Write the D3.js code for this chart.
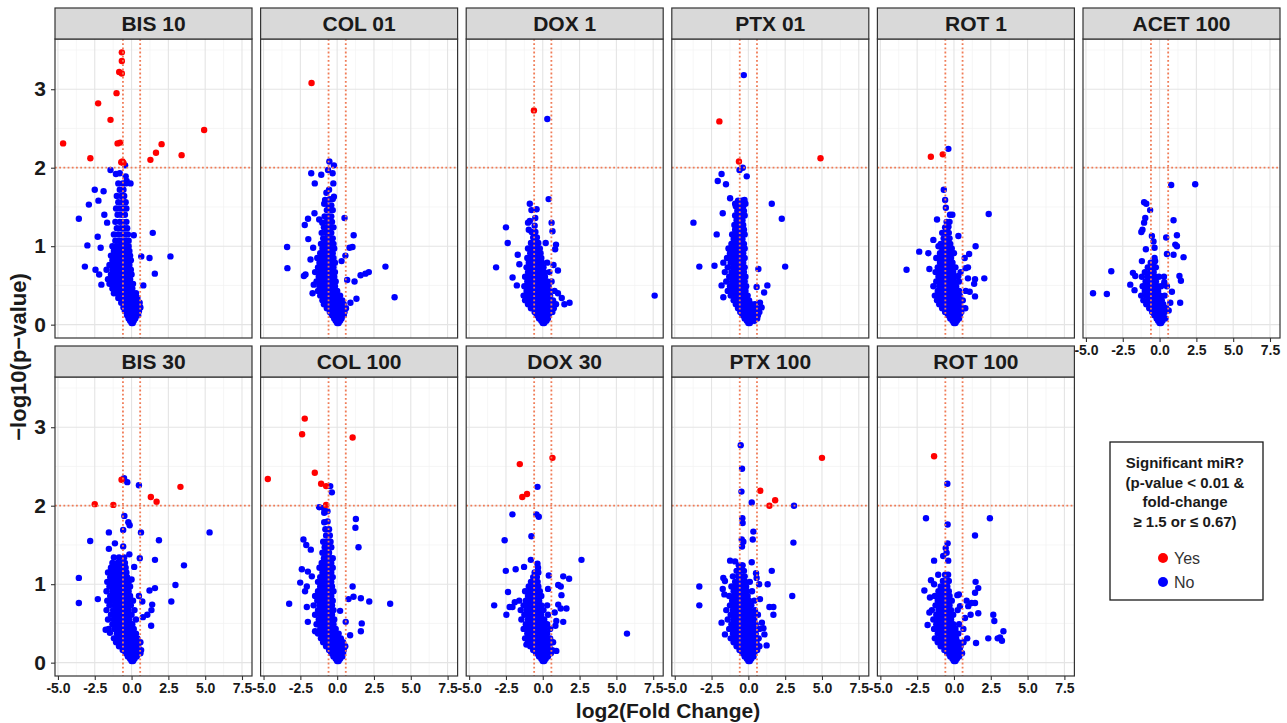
<!DOCTYPE html>
<html>
<head>
<meta charset="utf-8">
<script src="https://cdn.jsdelivr.net/npm/d3@7"></script>
<style>
  body { margin: 0; background: #fff; }
  text { font-family: "Liberation Sans", Arial, sans-serif; }
</style>
</head>
<body>
<svg id="chart" width="1287" height="723"></svg>
<script>
// facet names, in the order they are laid out
const panels = ["BIS 10", "COL 01", "DOX 1", "PTX 01", "ROT 1", "ACET 100",
                "BIS 30", "COL 100", "DOX 30", "PTX 100", "ROT 100"];
const xTicks = [-5, -2.5, 0, 2.5, 5, 7.5];
const yTicks = [0, 1, 2, 3];
const fcCut = Math.log2(1.5);   // fold-change 1.5
const pCut = 2;                 // p = 0.01

// every row is [-log10(p), log2FC, log2FC, ...]
const bis10Yes = [[3.47,-0.66],[3.36,-0.66],[3.22,-0.84],[3.20,-0.66],[2.95,-1.02],[2.82,-2.27],[2.61,-1.43],
  [2.31,-4.65,-0.95],[2.32,-0.77],[2.12,-2.8],[2.07,-0.70],[2.08,-0.62],[2.06,-0.55],[2.10,1.28],[2.19,1.66],
  [2.30,2.04],[2.16,3.4],[2.48,4.93]];
const bis10No = [[2.03,-0.44],[1.97,-1.43],[1.92,-1.06],[1.93,-0.8],[1.89,-0.4],[1.83,-0.33],[1.80,-0.07],[1.72,-2.5],
  [1.70,-1.9],[1.58,-2.25],[1.53,-2.9],[1.35,-3.58],[1.01,-3.0],[1.12,-2.3],[0.98,-2.1],[0.74,-3.17],[0.70,-2.45],
  [0.64,-2.2],[0.51,-2.05],[1.14,0.15],[1.17,1.44],[0.87,0.66,2.64],[0.85,1.22],[0.65,1.58],[0.50,0.8],[1.40,-1.85],[1.30,-1.66],
  [0.02,0.0,0.08],[0.05,-0.1,0.05,0.15],[0.08,-0.2,-0.05,0.1,0.25],[0.12,-0.3,-0.15,0.0,0.15,0.3,0.45],
  [0.17,-0.45,-0.3,-0.1,0.1,0.3,0.5],[0.22,-0.55,-0.35,-0.15,0.05,0.25,0.45,0.6],[0.28,-0.7,-0.5,-0.3,-0.1,0.1,0.3,0.55],
  [0.34,-0.9,-0.7,-0.5,-0.3,-0.1,0.15,0.4],[0.40,-1.2,-1.0,-0.75,-0.5,-0.3,-0.1,0.1,0.3],[0.46,-1.3,-1.05,-0.8,-0.6,-0.4,-0.2,0.05],
  [0.52,-1.5,-1.2,-1.0,-0.75,-0.55,-0.35,-0.15,0.1],[0.58,-1.6,-1.35,-1.1,-0.9,-0.7,-0.5,-0.3,-0.1],
  [0.64,-1.4,-1.2,-1.0,-0.8,-0.6,-0.4,-0.2,0.0],[0.70,-1.7,-1.3,-1.05,-0.85,-0.65,-0.45,-0.25,-0.05],
  [0.76,-1.5,-1.2,-0.95,-0.75,-0.55,-0.35,-0.15],[0.82,-1.3,-1.05,-0.85,-0.65,-0.45,-0.25,-0.05],
  [0.88,-1.4,-1.1,-0.9,-0.7,-0.5,-0.3,-0.1],[0.94,-1.2,-0.95,-0.75,-0.55,-0.35,-0.15],[1.0,-1.3,-1.0,-0.8,-0.6,-0.4,-0.2],
  [1.07,-1.1,-0.85,-0.6,-0.4,-0.2],[1.15,-1.2,-0.9,-0.65,-0.45,-0.25],[1.23,-1.0,-0.75,-0.5,-0.3],[1.31,-1.1,-0.8,-0.6,-0.35],
  [1.4,-0.95,-0.7,-0.45],[1.48,-1.05,-0.8,-0.55,-0.35],[1.56,-0.9,-0.65,-0.4],[1.64,-1.0,-0.7,-0.5],[1.72,-0.8,-0.55],[1.8,-0.9,-0.6,-0.4]];

const col01Yes = [[3.08,-1.74]];
const col01No = [[2.08,-0.53],[2.03,-0.22],[1.97,-0.62],[1.93,-0.31,-1.76],[1.91,-1.08],[1.80,-1.52,-0.26],[1.68,-0.73],
  [1.59,-0.82],[1.63,-0.22],[1.54,-0.88],[1.42,-1.54],[1.35,-1.98],[1.27,-2.2],[1.34,-1.22],[1.30,-1.01],[1.36,0.5],
  [1.09,-1.96],[0.99,-3.4,1.04],[0.72,-3.38],[0.98,-1.63,0.84],[0.83,-1.81],[1.14,1.12],[0.88,0.56],[0.81,0.3],[0.74,3.28],
  [0.67,2.15],[0.65,1.92],[0.63,1.59],[0.35,3.9],[0.33,1.31],[0.55,1.18],[0.57,0.68],[0.28,0.9],[0.64,-2.15],[0.62,-2.26],
  [0.51,-1.59],[0.40,-1.67],
  [0.02,0.0,0.1],[0.05,-0.1,0.05,0.2],[0.08,-0.2,0.0,0.15,0.3],[0.12,-0.35,-0.15,0.05,0.25,0.45],[0.16,-0.5,-0.3,-0.1,0.1,0.3,0.5],
  [0.21,-0.7,-0.45,-0.25,-0.05,0.15,0.35,0.6],[0.26,-0.9,-0.6,-0.4,-0.2,0.0,0.2,0.45],[0.31,-1.0,-0.75,-0.5,-0.3,-0.1,0.1,0.35],
  [0.37,-1.15,-0.9,-0.65,-0.45,-0.25,-0.05,0.2],[0.43,-1.3,-1.05,-0.8,-0.6,-0.4,-0.2,0.0],[0.49,-1.2,-0.95,-0.75,-0.55,-0.35,-0.15],
  [0.55,-1.4,-1.1,-0.9,-0.7,-0.5,-0.3,-0.1],[0.61,-1.25,-1.0,-0.8,-0.6,-0.4,-0.2],[0.67,-1.5,-1.15,-0.95,-0.75,-0.55,-0.35,-0.15],
  [0.73,-1.3,-1.05,-0.85,-0.65,-0.45,-0.25],[0.79,-1.2,-0.95,-0.75,-0.55,-0.35,-0.15],[0.85,-1.35,-1.05,-0.85,-0.65,-0.45,-0.25],
  [0.91,-1.15,-0.9,-0.7,-0.5,-0.3],[0.97,-1.0,-0.8,-0.6,-0.4,-0.2],[1.03,-1.1,-0.85,-0.65,-0.45,-0.25],[1.10,-0.95,-0.7,-0.5,-0.3],
  [1.17,-1.05,-0.8,-0.6,-0.4],[1.24,-0.9,-0.65,-0.45,-0.25],[1.31,-0.75,-0.55,-0.35],[1.38,-0.85,-0.6,-0.4],[1.46,-0.7,-0.5,-0.3],
  [1.52,-0.6,-0.4],[1.60,-0.5,-0.3],[1.72,-0.55]];

const dox1Yes = [[2.73,-0.6]];
const dox1No = [[2.62,0.31],[1.60,0.4],[1.54,-0.88],[1.46,-0.77],[1.47,-0.42],[1.30,-1.0,0.6],[1.32,-0.88],[1.21,-0.95],
  [1.36,-0.51],[1.24,-2.5],[1.04,-2.38,0.2],[0.73,-3.17],[0.60,-2.05],[0.50,-1.76],[0.89,-1.7],[0.77,-1.59],[1.19,0.66],
  [1.02,0.9],[0.96,0.84],[0.69,1.03],[0.76,0.73],[0.28,1.82],[0.26,1.47],[0.34,1.29],[0.40,1.03],[0.37,7.6],
  [0.02,0.0,0.1],[0.05,-0.1,0.1,0.25],[0.08,-0.25,-0.05,0.15,0.35],[0.12,-0.4,-0.2,0.0,0.2,0.4],
  [0.16,-0.55,-0.35,-0.15,0.05,0.25,0.45,0.65],[0.21,-0.8,-0.55,-0.35,-0.15,0.05,0.25,0.45,0.75],
  [0.26,-1.0,-0.75,-0.5,-0.3,-0.1,0.1,0.3,0.55,0.9],[0.31,-1.2,-0.9,-0.65,-0.45,-0.25,-0.05,0.15,0.4,0.7],
  [0.37,-1.3,-1.05,-0.8,-0.6,-0.4,-0.2,0.0,0.25,0.5],[0.43,-1.1,-0.85,-0.65,-0.45,-0.25,-0.05,0.2,0.45,0.8],
  [0.49,-1.25,-0.95,-0.7,-0.5,-0.3,-0.1,0.15,0.4],[0.55,-1.05,-0.8,-0.6,-0.4,-0.2,0.05,0.3,0.6],
  [0.61,-1.2,-0.9,-0.7,-0.5,-0.3,-0.1,0.15],[0.67,-1.0,-0.75,-0.55,-0.35,-0.15,0.1,0.45],[0.73,-1.1,-0.85,-0.6,-0.4,-0.2,0.05],
  [0.79,-0.95,-0.7,-0.5,-0.3,-0.05,0.3],[0.85,-1.05,-0.8,-0.55,-0.35,-0.1],[0.91,-0.85,-0.6,-0.4,-0.15],[0.97,-1.0,-0.7,-0.45,-0.2],
  [1.04,-0.8,-0.55,-0.3],[1.11,-0.65,-0.4],[1.18,-0.75,-0.5],[1.26,-0.55]];

const ptx01Yes = [[2.59,-1.97],[2.08,-0.64],[2.12,4.9]];
const ptx01No = [[3.18,-0.31],[2.0,-0.38],[1.97,-0.6],[1.92,-1.82],[1.83,-2.08],[1.79,-1.52],[1.89,-0.11],[1.61,-1.24],
  [1.54,-0.9,-0.2],[1.59,-0.26],[1.42,-1.74],[1.54,1.59],[1.35,2.27],[1.30,-3.73],[1.15,-2.15],[0.74,-3.33,2.5],[0.75,-2.3],
  [0.71,0.68],[0.48,0.56],[0.50,1.29,-1.82],[0.41,1.07],[0.28,0.79],[0.22,0.9],[0.35,-1.7],
  [0.02,0.0,0.1],[0.05,-0.1,0.05,0.2,0.4],[0.08,-0.25,-0.05,0.15,0.35,0.6],[0.12,-0.4,-0.2,0.0,0.2,0.4,0.65],
  [0.16,-0.55,-0.35,-0.15,0.05,0.25,0.5,0.75],[0.21,-0.7,-0.5,-0.3,-0.1,0.1,0.3,0.55],[0.26,-0.85,-0.6,-0.4,-0.2,0.0,0.2,0.45],
  [0.31,-1.0,-0.75,-0.55,-0.35,-0.15,0.05],[0.37,-1.2,-0.9,-0.65,-0.45,-0.25,-0.05],[0.43,-1.4,-1.05,-0.8,-0.6,-0.4,-0.2],
  [0.49,-1.25,-0.95,-0.75,-0.55,-0.35,-0.15],[0.55,-1.5,-1.1,-0.85,-0.65,-0.45,-0.25],[0.61,-1.3,-1.0,-0.8,-0.6,-0.4,-0.2],
  [0.67,-1.6,-1.15,-0.9,-0.7,-0.5,-0.3],[0.73,-1.4,-1.05,-0.85,-0.65,-0.45,-0.25],[0.79,-1.7,-1.2,-0.95,-0.75,-0.55,-0.35],
  [0.85,-1.45,-1.1,-0.85,-0.65,-0.45,-0.25],[0.91,-1.25,-0.95,-0.75,-0.55,-0.35],[0.97,-1.35,-1.05,-0.85,-0.65,-0.45,-0.25],
  [1.03,-1.15,-0.9,-0.7,-0.5,-0.3],[1.09,-1.0,-0.8,-0.6,-0.4],[1.15,-1.1,-0.85,-0.65,-0.45,-0.25],[1.21,-0.9,-0.7,-0.5,-0.3],
  [1.27,-0.95,-0.75,-0.55,-0.35],[1.33,-0.8,-0.6,-0.4],[1.39,-0.9,-0.65,-0.45,-0.25],[1.45,-0.75,-0.5,-0.3],
  [1.51,-0.85,-0.55,-0.35],[1.58,-0.7,-0.45]];

const rot1Yes = [[2.14,-1.57],[2.17,-0.76]];
const rot1No = [[2.24,-0.38],[1.72,-0.69],[1.59,-0.6],[1.49,-0.55],[1.40,-0.27,-0.11],[1.41,2.36],[1.34,-1.15],[1.25,-0.38],
  [1.13,0.3],[1.08,-1.4],[1.0,-1.05,1.47],[0.93,-2.36],[0.91,-1.74],[0.70,-3.22],[0.71,-1.67],[0.90,1.03],[0.85,0.73],
  [0.73,0.95],[0.72,0.79],[0.59,2.06,0.95],[0.58,1.43],[0.52,1.37],[0.62,0.3],[0.42,1.07],[0.36,1.43],[0.21,0.77],
  [0.02,0.0,0.1],[0.05,-0.1,0.05,0.2],[0.08,-0.25,-0.05,0.15,0.35],[0.12,-0.4,-0.2,0.0,0.2,0.4],
  [0.16,-0.6,-0.35,-0.15,0.05,0.25,0.5],[0.21,-0.8,-0.55,-0.3,-0.1,0.1,0.3,0.55],[0.26,-1.0,-0.7,-0.45,-0.25,-0.05,0.15,0.4],
  [0.31,-1.15,-0.9,-0.6,-0.4,-0.2,0.0,0.25,0.6],[0.37,-1.3,-1.0,-0.75,-0.5,-0.3,-0.1,0.15,0.4],
  [0.43,-1.1,-0.85,-0.6,-0.4,-0.2,0.05,0.35,0.8],[0.49,-1.4,-1.0,-0.75,-0.5,-0.3,-0.1,0.15],
  [0.55,-1.2,-0.9,-0.65,-0.45,-0.25,0.0,0.35],[0.61,-1.05,-0.8,-0.55,-0.35,-0.15,0.1],
  [0.67,-1.25,-0.95,-0.7,-0.45,-0.25,-0.05,0.45],[0.73,-1.1,-0.85,-0.6,-0.4,-0.2,0.1],[0.79,-0.95,-0.7,-0.5,-0.3,-0.1],
  [0.85,-1.2,-0.85,-0.6,-0.4,-0.2],[0.91,-0.95,-0.7,-0.5,-0.3,0.0],[0.97,-0.8,-0.55,-0.35,-0.15],[1.03,-0.9,-0.65,-0.45,-0.25],
  [1.10,-0.7,-0.5,-0.3],[1.17,-0.8,-0.55,-0.35],[1.24,-0.6,-0.4],[1.31,-0.5,-0.3]];

const acet100Yes = [];
const acet100No = [[1.78,0.79],[1.79,2.42],[1.56,-1.05],[1.54,-0.9],[1.46,-0.64],[1.36,-0.97],[1.30,-1.05],[1.18,-1.24],
  [1.21,-1.16],[1.33,0.95],[1.11,0.45],[1.14,1.18],[1.02,1.07],[1.0,1.18],[1.13,-0.52],[1.06,-0.41],[0.98,-0.34],[0.96,-0.93],
  [0.90,0.5],[0.89,0.95],[0.86,1.63],[0.85,-0.34],[0.81,-0.3,-1.2],[0.68,-3.28],[0.66,-1.81],[0.62,-1.65,1.35],[0.51,-1.99],
  [0.44,-1.7],[0.40,-4.52],[0.39,-3.58],[0.56,1.45],[0.28,1.4,0.73],[0.54,0.32],[0.49,0.5],[0.42,0.84],[0.18,0.62],
  [0.02,0.0,0.1],[0.05,-0.1,0.05,0.2],[0.08,-0.2,0.0,0.2,0.4],[0.12,-0.35,-0.15,0.05,0.25],[0.16,-0.5,-0.3,-0.1,0.1,0.35],
  [0.21,-0.7,-0.45,-0.25,-0.05,0.15,0.45],[0.26,-0.9,-0.6,-0.4,-0.2,0.0,0.25],[0.31,-1.1,-0.75,-0.5,-0.3,-0.1,0.15],
  [0.37,-1.25,-0.9,-0.65,-0.4,-0.2,0.05,0.35],[0.43,-1.0,-0.75,-0.5,-0.3,-0.1],[0.49,-1.15,-0.85,-0.6,-0.35,-0.15,0.1],
  [0.55,-0.95,-0.7,-0.45,-0.25],[0.61,-1.2,-0.8,-0.55,-0.3,-0.05,0.3],[0.67,-1.0,-0.65,-0.4],[0.73,-0.8,-0.5,-0.25],[0.79,-0.6,-0.4]];

const bis30Yes = [[2.33,-0.68],[2.02,-2.5],[2.01,-1.24],[2.11,1.31],[2.05,1.7],[2.24,3.32]];
const bis30No = [[2.35,-0.51],[2.30,-0.29],[2.26,0.5],[1.87,-0.49],[1.79,-0.22],[1.75,-0.13],[1.69,-0.57],[1.66,0.64,-1.54,5.3],
  [1.55,-2.81],[1.52,-1.13],[1.45,-1.54],[1.48,-0.57],[1.56,1.86],[1.38,-0.15],[1.33,0.56],[1.31,1.59],[1.24,3.56],[1.08,-3.58],
  [0.76,-3.58],[0.81,-2.29],[0.99,2.98],[0.78,2.7],[0.95,1.59],[0.92,1.22],[0.74,1.4],[0.67,1.35],[0.61,1.07],[0.58,0.77],
  [0.47,1.33],[0.78,0.73],[0.85,0.5],[1.22,0.18],[1.06,0.0],[0.42,-1.76],[0.38,-1.47],
  [0.02,0.0,0.1],[0.05,-0.1,0.05,0.2],[0.08,-0.25,-0.05,0.15,0.35],[0.12,-0.4,-0.2,0.0,0.2,0.4,0.6],
  [0.16,-0.6,-0.4,-0.2,0.0,0.2,0.4,0.65],[0.21,-0.85,-0.6,-0.4,-0.2,0.0,0.2,0.45],[0.26,-1.05,-0.8,-0.55,-0.35,-0.15,0.05,0.3,0.6],
  [0.31,-1.2,-0.95,-0.7,-0.5,-0.3,-0.1,0.15,0.4],[0.37,-1.0,-0.8,-0.6,-0.4,-0.2,0.0,0.3],
  [0.43,-1.55,-1.15,-0.9,-0.7,-0.5,-0.3,-0.1,0.15],[0.49,-1.3,-1.05,-0.8,-0.6,-0.4,-0.2,0.05],
  [0.55,-1.6,-1.2,-0.95,-0.75,-0.55,-0.35,-0.15,0.3],[0.61,-1.4,-1.1,-0.85,-0.65,-0.45,-0.25,0.0],
  [0.67,-1.7,-1.25,-1.0,-0.8,-0.6,-0.4,-0.2,0.2],[0.73,-1.5,-1.15,-0.9,-0.7,-0.5,-0.3,-0.05],
  [0.79,-1.65,-1.3,-1.05,-0.85,-0.65,-0.45,-0.25,0.1],[0.85,-1.45,-1.15,-0.95,-0.75,-0.55,-0.35,-0.1],
  [0.91,-1.7,-1.3,-1.05,-0.85,-0.65,-0.45,-0.2],[0.97,-1.5,-1.2,-0.95,-0.75,-0.55,-0.35,-0.1],
  [1.03,-1.65,-1.35,-1.05,-0.85,-0.65,-0.45,-0.2],[1.09,-1.45,-1.2,-0.9,-0.7,-0.5,-0.3],[1.15,-1.6,-1.3,-1.05,-0.8,-0.55,-0.35],
  [1.21,-1.4,-1.15,-0.9,-0.6,-0.4],[1.27,-1.3,-0.95,-0.7,-0.45],[1.34,-1.2,-0.85,-0.5]];

const col100Yes = [[3.11,-2.2],[2.91,-2.38],[2.87,1.05],[2.34,-4.71],[2.42,-1.52],[2.28,-1.09],[2.25,-0.75],[2.01,-0.75]];
const col100No = [[2.25,-0.47],[2.17,-0.36],[1.97,-0.92],[1.98,-1.22],[1.91,-0.88],[1.93,-0.66],[1.79,-0.88],[1.83,1.27],
  [1.72,1.24],[1.47,1.45],[1.57,-2.29],[1.50,-2.1],[1.44,-1.79],[1.19,-2.4],[1.16,-1.99],[1.10,-1.72],[1.02,-2.51],
  [0.97,-2.06,1.05],[0.91,-2.18],[0.75,-3.26,3.6],[0.71,-2.06],[0.52,-1.99,0.58],[0.84,1.11],[0.81,0.77],[0.82,1.61],
  [0.78,2.18],[0.50,1.67],[0.40,1.61,-1.5],[0.35,0.88],[0.66,0.2],
  [0.02,0.0,0.1],[0.05,-0.1,0.05,0.2],[0.08,-0.25,-0.05,0.15,0.35],[0.12,-0.4,-0.2,0.0,0.2,0.4],
  [0.16,-0.55,-0.35,-0.15,0.05,0.25,0.45],[0.21,-0.75,-0.5,-0.3,-0.1,0.1,0.3,0.55],[0.26,-0.95,-0.7,-0.45,-0.25,-0.05,0.15,0.4],
  [0.31,-1.1,-0.85,-0.6,-0.4,-0.2,0.0,0.25],[0.37,-1.3,-1.0,-0.75,-0.55,-0.35,-0.15,0.1],[0.43,-1.15,-0.9,-0.7,-0.5,-0.3,-0.1],
  [0.49,-1.4,-1.05,-0.85,-0.65,-0.45,-0.25],[0.55,-1.25,-1.0,-0.8,-0.6,-0.4,-0.2],[0.61,-1.5,-1.15,-0.95,-0.75,-0.55,-0.35],
  [0.67,-1.3,-1.05,-0.85,-0.65,-0.45,-0.25],[0.73,-1.6,-1.2,-0.95,-0.75,-0.55,-0.35],[0.79,-1.35,-1.1,-0.9,-0.7,-0.5,-0.3],
  [0.85,-1.5,-1.2,-1.0,-0.8,-0.6,-0.4],[0.91,-1.3,-1.05,-0.85,-0.65,-0.45,-0.25],[0.97,-1.15,-0.95,-0.75,-0.55,-0.35],
  [1.03,-1.3,-1.05,-0.8,-0.6,-0.4],[1.09,-1.15,-0.9,-0.7,-0.5,-0.3],[1.15,-1.0,-0.8,-0.6,-0.4],[1.21,-1.2,-0.9,-0.7,-0.5,-0.3],
  [1.27,-1.05,-0.8,-0.6,-0.4],[1.33,-0.9,-0.7,-0.5,-0.3],[1.40,-1.0,-0.75,-0.55],[1.47,-0.85,-0.6,-0.4],[1.54,-0.95,-0.7,-0.45],
  [1.62,-0.75,-0.5],[1.70,-0.8,-0.55],[1.80,-0.65]];

const dox30Yes = [[2.53,-1.56],[2.61,0.66],[2.11,-1.39],[2.15,-1.07]];
const dox30No = [[2.24,-0.36],[1.89,-2.06,-0.43],[1.86,-0.27],[1.56,-2.59],[1.61,-0.77],[1.31,2.63,-0.81],[1.26,-0.36],
  [1.21,-0.32],[1.17,-2.51],[1.19,-1.84],[1.22,-1.27],[1.11,0.41],[1.10,1.39],[1.07,1.79],[0.99,1.05],[0.97,1.22],[0.94,0.36],
  [0.86,1.27],[0.90,-2.36],[0.77,-1.9],[0.73,-3.3],[0.71,-2.25,-2.06],[0.61,-2.47,0.36],[0.74,1.05],[0.69,1.22,1.61],
  [0.64,0.81],[0.53,0.92],[0.52,1.39],[0.47,0.86],[0.15,0.92],[0.37,5.72],[0.23,-1.11],
  [0.02,0.0,0.1],[0.05,-0.1,0.05,0.2],[0.08,-0.25,-0.05,0.15,0.35],[0.12,-0.45,-0.25,-0.05,0.15,0.35,0.55],
  [0.16,-0.65,-0.4,-0.2,0.0,0.2,0.4,0.65],[0.21,-0.85,-0.6,-0.4,-0.2,0.0,0.2,0.45],
  [0.26,-1.0,-0.75,-0.5,-0.3,-0.1,0.1,0.35,0.7],[0.31,-1.2,-0.9,-0.65,-0.45,-0.25,-0.05,0.2,0.5],
  [0.37,-1.05,-0.8,-0.55,-0.35,-0.15,0.05,0.3],[0.43,-1.3,-0.95,-0.7,-0.5,-0.3,-0.1,0.15,0.5],
  [0.49,-1.15,-0.85,-0.6,-0.4,-0.2,0.0,0.3],[0.55,-1.45,-1.0,-0.75,-0.55,-0.35,-0.15,0.1],
  [0.61,-1.25,-0.95,-0.7,-0.5,-0.3,-0.1],[0.67,-1.5,-1.1,-0.85,-0.6,-0.4,-0.2,0.05],[0.73,-1.3,-1.0,-0.75,-0.55,-0.35,-0.1,0.3],
  [0.79,-1.6,-1.15,-0.9,-0.65,-0.45,-0.25],[0.85,-1.0,-0.75,-0.55,-0.35,-0.1],[0.91,-1.2,-0.85,-0.6,-0.4,-0.2],
  [0.97,-0.95,-0.7,-0.5,-0.3],[1.03,-0.8,-0.55,-0.35],[1.09,-0.65,-0.4],[1.15,-0.55,-0.3]];

const ptx100Yes = [[2.61,5.0],[2.19,0.81],[2.07,1.82],[2.0,1.43]];
const ptx100No = [[2.77,-0.52],[2.47,-0.43],[2.18,-0.47],[2.04,0.23],[2.0,3.1],[1.84,-0.41],[1.78,-0.39],[1.67,0.34],
  [1.57,0.3,-0.45],[1.54,-0.34],[1.48,-0.43],[1.53,3.06],[1.30,-1.24],[1.29,-0.9],[1.28,0.23],[1.24,-0.39],[1.17,1.59],
  [1.0,1.31,0.73],[1.14,0.52],[1.08,0.56,-1.7],[1.04,-1.59],[0.97,-3.33],[0.73,-3.33],[0.94,-1.74],[0.87,-1.63],[0.85,2.98],
  [0.81,0.79],[0.71,1.43,1.7],[0.61,1.7],[0.51,-1.82,0.92],[0.36,-1.59,1.09],[0.44,1.02],[0.22,1.24],
  [0.02,0.0,0.1],[0.05,-0.1,0.05,0.2],[0.08,-0.25,-0.05,0.15,0.35],[0.12,-0.4,-0.2,0.0,0.2,0.4],
  [0.16,-0.6,-0.4,-0.2,0.0,0.2,0.4,0.6],[0.21,-0.8,-0.55,-0.35,-0.15,0.05,0.25,0.5,0.75],
  [0.26,-1.0,-0.7,-0.5,-0.3,-0.1,0.1,0.3,0.55],[0.31,-1.2,-0.9,-0.65,-0.45,-0.25,-0.05,0.15,0.4,0.7],
  [0.37,-1.05,-0.8,-0.6,-0.4,-0.2,0.0,0.25,0.5],[0.43,-1.3,-0.95,-0.75,-0.55,-0.35,-0.15,0.05,0.35,0.75],
  [0.49,-1.15,-0.85,-0.65,-0.45,-0.25,-0.05,0.2,0.5],[0.55,-1.4,-1.0,-0.75,-0.55,-0.35,-0.15,0.1,0.4],
  [0.61,-1.2,-0.9,-0.65,-0.45,-0.25,-0.05,0.25,0.65],[0.67,-1.5,-1.05,-0.8,-0.55,-0.35,-0.15,0.1,0.45],
  [0.73,-1.25,-0.95,-0.7,-0.5,-0.3,-0.1,0.2],[0.79,-1.1,-0.8,-0.6,-0.4,-0.2,0.05,0.4],[0.85,-1.3,-0.95,-0.7,-0.5,-0.3,-0.05],
  [0.91,-1.0,-0.75,-0.55,-0.35,-0.1,0.25],[0.97,-1.15,-0.85,-0.6,-0.4,-0.15],[1.03,-0.9,-0.65,-0.45,-0.2,0.1],
  [1.10,-1.05,-0.7,-0.45,-0.25],[1.17,-0.8,-0.55,-0.3],[1.24,-0.65,-0.45]];

const rot100Yes = [[2.63,-1.35]];
const rot100No = [[2.28,-0.45],[1.84,-1.9,2.44],[1.76,-0.43],[1.62,1.43],[1.52,-0.43],[1.46,-0.56],[1.40,-0.5],[1.36,-0.73],
  [1.30,-1.35,-0.39],[1.12,-1.07],[1.05,-1.56],[1.0,-1.35],[0.92,-2.01],[1.03,1.47],[0.95,1.65],[0.89,1.43],[0.87,0.34],
  [0.86,0.23],[0.72,0.41,0.97],[0.79,0.86],[0.76,1.2,1.43],[0.61,1.13,2.67],[0.63,1.65],[0.53,2.74],[0.40,3.36],[0.32,3.13],
  [0.31,2.97,2.33,0.9],[0.28,3.26],[0.25,1.5],[0.83,-1.63],[0.64,-1.67],[0.48,-1.79],[0.57,0.75],[0.43,0.64],
  [0.02,0.0,0.1],[0.05,-0.1,0.05,0.2],[0.08,-0.25,-0.05,0.15,0.35],[0.12,-0.45,-0.25,-0.05,0.15,0.35,0.55],
  [0.16,-0.65,-0.4,-0.2,0.0,0.2,0.4],[0.21,-0.9,-0.6,-0.4,-0.2,0.0,0.2,0.45],[0.26,-1.1,-0.8,-0.55,-0.35,-0.15,0.05,0.3,0.65],
  [0.31,-1.3,-0.95,-0.7,-0.5,-0.3,-0.1,0.15],[0.37,-1.1,-0.85,-0.6,-0.4,-0.2,0.0,0.3],[0.43,-1.35,-1.0,-0.75,-0.55,-0.35,-0.15,0.1],
  [0.49,-1.2,-0.9,-0.65,-0.45,-0.25,-0.05,0.35],[0.55,-1.4,-1.05,-0.8,-0.6,-0.4,-0.2],[0.61,-1.2,-0.9,-0.7,-0.5,-0.3,-0.05],
  [0.67,-1.5,-1.05,-0.8,-0.6,-0.4,-0.2,0.25],[0.73,-1.25,-0.95,-0.7,-0.5,-0.3],[0.79,-1.1,-0.85,-0.6,-0.4,-0.15],
  [0.85,-1.3,-0.95,-0.7,-0.5,-0.3],[0.91,-1.05,-0.8,-0.55,-0.35],[0.97,-0.9,-0.65,-0.45],[1.04,-0.75,-0.55,-0.35],[1.12,-0.6,-0.4]];

const yesSets = [bis10Yes, col01Yes, dox1Yes, ptx01Yes, rot1Yes, acet100Yes, bis30Yes, col100Yes, dox30Yes, ptx100Yes, rot100Yes];
const noSets = [bis10No, col01No, dox1No, ptx01No, rot1No, acet100No, bis30No, col100No, dox30No, ptx100No, rot100No];

const legendLines = ["Significant miR?", "(p-value < 0.01 &", "fold-change", "\u2265 1.5 or \u2264 0.67)"];
const legendKeys = [{ label: "Yes", color: "red" }, { label: "No", color: "blue" }];

// rows of [y, x, x, ...] -> points
function unpack(rows) {
    return rows.flatMap(r => r.slice(1).map(x => ({ x: x, y: r[0] })));
}

const svg = d3.select("#chart");
svg.append("rect").attr("width", 1287).attr("height", 723).attr("fill", "#fff");

const W = 197, H = 299, stripH = 31;
const left0 = 55, pitch = 205.6;
const rowTops = [39, 377];
const xMinor = [-3.75, -1.25, 1.25, 3.75, 6.25];
const yMinor = [0.5, 1.5, 2.5, 3.5];
const cutColor = "#f07c57";

panels.forEach((name, i) => {
    const col = i % 6, row = Math.floor(i / 6);
    const L = left0 + col * pitch, T = rowTops[row];
    const x = d3.scaleLinear().domain([-5.2, 8.18]).range([L, L + W]);
    const y = d3.scaleLinear().domain([-0.17, 3.64]).range([T + H, T]);
    const g = svg.append("g");

    g.append("rect").attr("x", L).attr("y", T).attr("width", W).attr("height", H).attr("fill", "#fff");

    // grid
    g.selectAll(".xmin").data(xMinor).enter().append("line")
        .attr("x1", d => x(d)).attr("x2", d => x(d)).attr("y1", T).attr("y2", T + H)
        .attr("stroke", "#f2f2f2").attr("stroke-width", 0.7);
    g.selectAll(".ymin").data(yMinor).enter().append("line")
        .attr("x1", L).attr("x2", L + W).attr("y1", d => y(d)).attr("y2", d => y(d))
        .attr("stroke", "#f2f2f2").attr("stroke-width", 0.7);
    g.selectAll(".xmaj").data(xTicks).enter().append("line")
        .attr("x1", d => x(d)).attr("x2", d => x(d)).attr("y1", T).attr("y2", T + H)
        .attr("stroke", "#e4e4e4").attr("stroke-width", 1.1);
    g.selectAll(".ymaj").data(yTicks).enter().append("line")
        .attr("x1", L).attr("x2", L + W).attr("y1", d => y(d)).attr("y2", d => y(d))
        .attr("stroke", "#e4e4e4").attr("stroke-width", 1.1);

    // points
    g.selectAll(".no").data(unpack(noSets[i])).enter().append("circle")
        .attr("cx", d => x(d.x)).attr("cy", d => y(d.y)).attr("r", 3.2).attr("fill", "blue");
    g.selectAll(".yes").data(unpack(yesSets[i])).enter().append("circle")
        .attr("cx", d => x(d.x)).attr("cy", d => y(d.y)).attr("r", 3.2).attr("fill", "red");

    // threshold lines, drawn over the points
    [-fcCut, fcCut].forEach(v => {
        g.append("line").attr("x1", x(v)).attr("x2", x(v)).attr("y1", T).attr("y2", T + H)
            .attr("stroke", cutColor).attr("stroke-width", 1.8).attr("stroke-dasharray", "1.8,2.4");
    });
    g.append("line").attr("x1", L).attr("x2", L + W).attr("y1", y(pCut)).attr("y2", y(pCut))
        .attr("stroke", cutColor).attr("stroke-width", 1.8).attr("stroke-dasharray", "1.8,2.4");

    // border + strip
    g.append("rect").attr("x", L).attr("y", T).attr("width", W).attr("height", H)
        .attr("fill", "none").attr("stroke", "#333").attr("stroke-width", 1.2);
    g.append("rect").attr("x", L).attr("y", T - stripH).attr("width", W).attr("height", stripH)
        .attr("fill", "#d9d9d9").attr("stroke", "#333").attr("stroke-width", 1.2);
    g.append("text").attr("x", L + W / 2).attr("y", T - stripH / 2 + 7.5)
        .attr("text-anchor", "middle").attr("font-size", 21).attr("font-weight", "bold")
        .attr("fill", "#1a1a1a").text(name);

    // axes
    if (col === 0) {
        const ax = g.append("g").attr("transform", `translate(${L},0)`)
            .call(d3.axisLeft(y).tickValues(yTicks).tickSize(4).tickPadding(5).tickFormat(d3.format("d")));
        ax.select(".domain").remove();
        ax.selectAll("line").attr("stroke", "#333").attr("stroke-width", 1.1);
        ax.selectAll("text").attr("font-size", 21).attr("font-weight", "bold").attr("fill", "#1a1a1a")
            .attr("font-family", "Liberation Sans, Arial, sans-serif");
    }
    if (row === 1 || i === 5) {
        const ax = g.append("g").attr("transform", `translate(0,${T + H})`)
            .call(d3.axisBottom(x).tickValues(xTicks).tickSize(4).tickPadding(3).tickFormat(d => d.toFixed(1)));
        ax.select(".domain").remove();
        ax.selectAll("line").attr("stroke", "#333").attr("stroke-width", 1.1);
        ax.selectAll("text").attr("font-size", 14).attr("font-weight", "bold").attr("fill", "#1a1a1a")
            .attr("font-family", "Liberation Sans, Arial, sans-serif");
    }
});

// axis titles
svg.append("text").attr("x", 668).attr("y", 718).attr("text-anchor", "middle")
    .attr("font-size", 21).attr("font-weight", "bold").attr("fill", "#1a1a1a").text("log2(Fold Change)");
svg.append("text").attr("transform", "translate(26,357) rotate(-90)").attr("text-anchor", "middle")
    .attr("font-size", 22).attr("font-weight", "bold").attr("fill", "#1a1a1a").text("\u2212log10(p\u2212value)");

// legend
const lg = svg.append("g");
lg.append("rect").attr("x", 1110).attr("y", 442).attr("width", 153).attr("height", 158)
    .attr("fill", "#fff").attr("stroke", "#1a1a1a").attr("stroke-width", 1.3);
lg.selectAll(".lt").data(legendLines).enter().append("text")
    .attr("x", 1185).attr("y", (d, k) => 468 + k * 19.5).attr("text-anchor", "middle")
    .attr("font-size", 15).attr("font-weight", "bold").attr("fill", "#1a1a1a").text(d => d);
legendKeys.forEach((k, j) => {
    lg.append("circle").attr("cx", 1163).attr("cy", 558 + j * 24).attr("r", 5).attr("fill", k.color);
    lg.append("text").attr("x", 1174).attr("y", 563.5 + j * 24).attr("font-size", 16)
        .attr("fill", "#333").text(k.label);
});
</script>
</body>
</html>
